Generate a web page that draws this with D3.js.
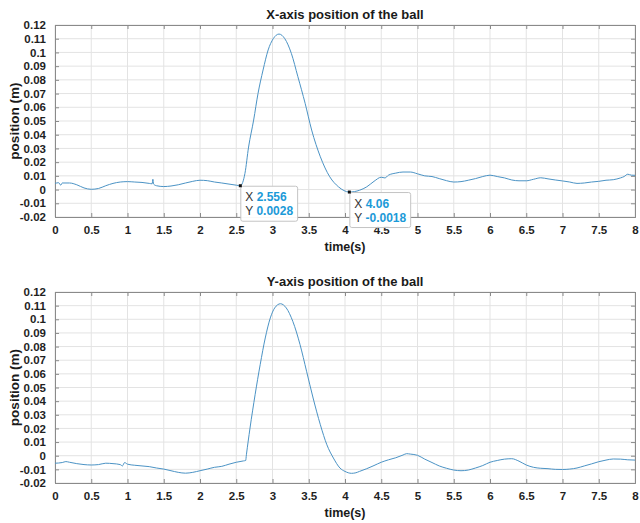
<!DOCTYPE html>
<html>
<head>
<meta charset="utf-8">
<script src="https://cdn.jsdelivr.net/npm/d3@7"></script>
<style>
  body { margin: 0; background: #fff; }
  text { font-family: "Liberation Sans", Arial, Helvetica, sans-serif; }
</style>
</head>
<body>
<div id="chart"></div>
<script>
// x-axis position of the ball (time in s, position in m)
const xTime = [0, 0.05, 0.08, 0.1, 0.2, 0.3, 0.4, 0.5, 0.6, 0.7, 0.8, 0.9, 1.0, 1.1, 1.2, 1.3, 1.34, 1.35, 1.36, 1.4, 1.5, 1.6, 1.7, 1.8, 1.9, 2.0, 2.1, 2.2, 2.3, 2.4, 2.5, 2.556,
  2.62, 2.67, 2.74, 2.8, 2.87, 2.94, 3.01, 3.09, 3.17, 3.26, 3.35, 3.45, 3.54, 3.66, 3.79, 3.91, 4.06,
  4.2, 4.3, 4.4, 4.5, 4.55, 4.6, 4.7, 4.8, 4.9, 5.0, 5.1, 5.2, 5.3, 5.4, 5.5, 5.6, 5.7, 5.8, 5.9, 6.0, 6.1, 6.2, 6.3, 6.4, 6.5, 6.6, 6.7, 6.8, 6.9, 7.0, 7.1, 7.2, 7.3, 7.4, 7.5, 7.6, 7.7, 7.8, 7.85, 7.9, 7.95, 8.0];
const xPos = [0.0045, 0.005, 0.0032, 0.0048, 0.0048, 0.0035, 0.0012, 0.0002, 0.0008, 0.0028, 0.0045, 0.0055, 0.0058, 0.0055, 0.0052, 0.0045, 0.0042, 0.0075, 0.004, 0.0028, 0.0022, 0.0026, 0.0035, 0.0048, 0.006, 0.0068, 0.0065, 0.0055, 0.0048, 0.004, 0.0032, 0.0028,
  0.0118, 0.031, 0.0507, 0.07, 0.0872, 0.1018, 0.110, 0.1134, 0.110, 0.0993, 0.0823, 0.0629, 0.0434, 0.0239, 0.0093, 0.002, -0.0018,
  -0.0005, 0.002, 0.006, 0.009, 0.0085, 0.0105, 0.012, 0.0128, 0.0128, 0.0115, 0.01, 0.0095, 0.008, 0.0065, 0.0055, 0.0058, 0.0068, 0.008, 0.0095, 0.0105, 0.0095, 0.0085, 0.007, 0.0064, 0.0064, 0.0075, 0.0086, 0.0078, 0.007, 0.0063, 0.0055, 0.0045, 0.0048, 0.0055, 0.006, 0.0068, 0.0072, 0.0085, 0.0095, 0.0112, 0.0105, 0.0104];

// y-axis position of the ball
const yTime = [0, 0.1, 0.15, 0.2, 0.3, 0.4, 0.5, 0.6, 0.7, 0.8, 0.9, 0.93, 0.96, 1.0, 1.1, 1.2, 1.3, 1.4, 1.5, 1.6, 1.7, 1.8, 1.9, 2.0, 2.1, 2.2, 2.3, 2.4, 2.5, 2.6, 2.63,
  2.64, 2.69, 2.76, 2.83, 2.9, 2.97, 3.03, 3.11, 3.19, 3.28, 3.38, 3.47, 3.56, 3.66, 3.75, 3.84, 3.93, 4.0, 4.09,
  4.15, 4.2, 4.3, 4.4, 4.5, 4.6, 4.7, 4.8, 4.85, 4.9, 5.0, 5.1, 5.2, 5.3, 5.4, 5.5, 5.6, 5.7, 5.8, 5.9, 6.0, 6.1, 6.2, 6.3, 6.4, 6.5, 6.6, 6.7, 6.8, 6.9, 7.0, 7.1, 7.2, 7.3, 7.4, 7.5, 7.6, 7.7, 7.8, 7.9, 8.0];
const yPos = [-0.0055, -0.005, -0.0043, -0.0048, -0.0058, -0.0065, -0.0068, -0.0065, -0.0055, -0.0058, -0.0065, -0.0075, -0.005, -0.0062, -0.007, -0.0075, -0.008, -0.009, -0.0098, -0.011, -0.0122, -0.0128, -0.0122, -0.011, -0.0098, -0.0085, -0.0078, -0.0062, -0.0048, -0.0038, -0.0035,
  0.0007, 0.0203, 0.0447, 0.0667, 0.0863, 0.101, 0.1083, 0.1114, 0.1083, 0.0985, 0.0814, 0.0619, 0.0423, 0.0227, 0.008, -0.0017, -0.009, -0.0115, -0.0129,
  -0.0125, -0.0115, -0.0095, -0.0072, -0.0048, -0.003, -0.0015, 0.0005, 0.0015, 0.0012, 0.0003, -0.0025, -0.005, -0.0075, -0.0092, -0.0105, -0.011, -0.0105, -0.009, -0.0072, -0.0048, -0.0035, -0.0025, -0.0022, -0.004, -0.0068, -0.0085, -0.0092, -0.0095, -0.01, -0.0101, -0.0098, -0.009, -0.0075, -0.006, -0.0044, -0.0032, -0.0024, -0.0025, -0.003, -0.0032];

const xTicks = d3.range(0, 8.01, 0.5);
const yTicks = d3.range(-0.02, 0.1201, 0.01).map(d => +d.toFixed(2));

// data tips shown on the top panel
const tipTime = [2.556, 4.06];
const tipPos = [0.0028, -0.0018];

const W = 640, H = 523;
const left = 55, right = 635;

const svg = d3.select("#chart").append("svg")
  .attr("width", W)
  .attr("height", H);

const fmt = d => String(+d.toFixed(3));

function drawPanel(time, pos, top, bottom, title, tips) {
  const x = d3.scaleLinear().domain([0, 8]).range([left, right]);
  const y = d3.scaleLinear().domain([-0.02, 0.12]).range([bottom, top]);
  const g = svg.append("g");

  // grid
  g.append("g").selectAll("line").data(xTicks).join("line")
    .attr("x1", d => x(d)).attr("x2", d => x(d))
    .attr("y1", top).attr("y2", bottom)
    .attr("stroke", "#e3e3e3");
  g.append("g").selectAll("line").data(yTicks).join("line")
    .attr("x1", left).attr("x2", right)
    .attr("y1", d => y(d)).attr("y2", d => y(d))
    .attr("stroke", "#e3e3e3");

  // axes, ticks pointing inwards, box on all sides
  const axCol = "#8a8a8a";
  const bx = g.append("g").attr("transform", `translate(0,${bottom})`)
    .call(d3.axisBottom(x).tickValues(xTicks).tickSize(-4).tickPadding(9).tickFormat(fmt));
  const tx = g.append("g").attr("transform", `translate(0,${top})`)
    .call(d3.axisTop(x).tickValues(xTicks).tickSize(-4).tickFormat(""));
  const ly = g.append("g").attr("transform", `translate(${left},0)`)
    .call(d3.axisLeft(y).tickValues(yTicks).tickSize(-4).tickPadding(9).tickFormat(fmt));
  const ry = g.append("g").attr("transform", `translate(${right},0)`)
    .call(d3.axisRight(y).tickValues(yTicks).tickSize(-4).tickFormat(""));
  [bx, tx, ly, ry].forEach(a => {
    a.select(".domain").attr("stroke", axCol);
    a.selectAll(".tick line").attr("stroke", axCol);
    a.selectAll("text")
      .attr("fill", "#1f1f1f")
      .style("font-size", "11.5px")
      .style("font-weight", "bold")
      .style("font-family", "'Liberation Sans', Arial, sans-serif");
  });
  bx.selectAll("text").attr("dy", "0.71em");

  // the signal
  const line = d3.line()
    .x((d, i) => x(time[i]))
    .y(d => y(d))
    .curve(d3.curveMonotoneX);
  g.append("path")
    .datum(pos)
    .attr("d", line)
    .attr("fill", "none")
    .attr("stroke", "#4b93c5")
    .attr("stroke-width", 1);

  // labels
  g.append("text")
    .attr("x", (left + right) / 2)
    .attr("y", top - 6)
    .attr("text-anchor", "middle")
    .style("font-size", "13px")
    .style("font-weight", "bold")
    .attr("fill", "#1a1a1a")
    .text(title);
  g.append("text")
    .attr("x", (left + right) / 2)
    .attr("y", bottom + 34)
    .attr("text-anchor", "middle")
    .style("font-size", "12.5px")
    .style("font-weight", "bold")
    .attr("fill", "#1a1a1a")
    .text("time(s)");
  g.append("text")
    .attr("transform", `translate(19,${(top + bottom) / 2}) rotate(-90)`)
    .attr("text-anchor", "middle")
    .style("font-size", "13.5px")
    .style("font-weight", "bold")
    .attr("fill", "#1a1a1a")
    .text("position (m)");

  // data tips
  if (tips) {
    tips.t.forEach((t, i) => {
      const px = x(t), py = y(tips.v[i]);
      const tg = g.append("g").attr("transform", `translate(${px},${py})`);
      const box = tg.append("rect")
        .attr("x", 0.5).attr("y", 0.5)
        .attr("height", 35)
        .attr("rx", 2)
        .attr("fill", "#fff")
        .attr("fill-opacity", 0.95)
        .attr("stroke", "#c4c4c4");
      const rows = [["X", fmt(t)], ["Y", String(tips.v[i])]];
      let maxW = 0;
      rows.forEach((r, k) => {
        const tt = tg.append("text")
          .attr("x", 5)
          .attr("y", 15.5 + k * 14)
          .style("font-size", "12px");
        tt.append("tspan").attr("fill", "#333").text(r[0] + " ");
        tt.append("tspan").attr("fill", "#1b9ad8").style("font-weight", "bold").text(r[1]);
        maxW = Math.max(maxW, tt.node().getComputedTextLength());
      });
      box.attr("width", maxW + 9);
      tg.append("rect")
        .attr("x", -1.5).attr("y", -1.5)
        .attr("width", 3).attr("height", 3)
        .attr("fill", "#111");
    });
  }
}

drawPanel(xTime, xPos, 25, 217, "X-axis position of the ball", { t: tipTime, v: tipPos });
drawPanel(yTime, yPos, 292, 483, "Y-axis position of the ball", null);
</script>
</body>
</html>
